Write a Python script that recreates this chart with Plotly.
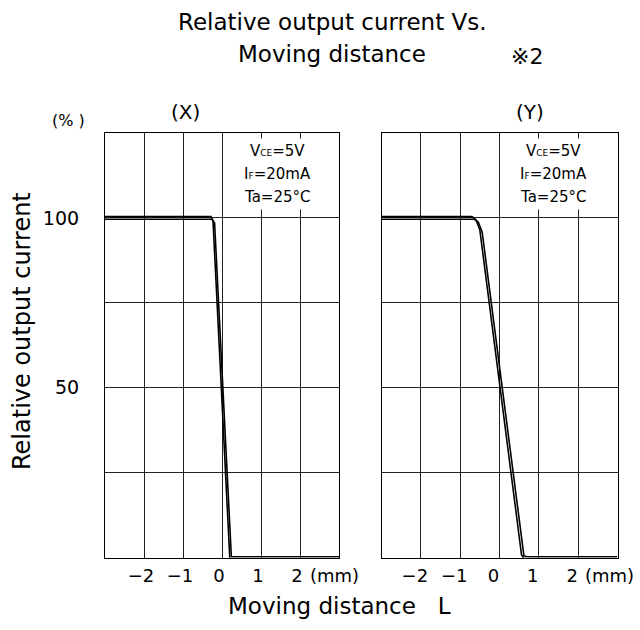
import plotly.graph_objects as go

W, H = 640, 630

# ---- data ----
x_ticks = [-2, -1, 0, 1, 2]
x_tick_text = ["−2", "−1", "0", "1", "2"]
y_ticks = [50, 100]
y_tick_text = ["50", "100"]

# (X) direction, two samples
x_dist_a = [-3.0, -0.28, -0.23, 0.20, 3.0]
x_out_a = [100.4, 100.4, 99.0, -0.3, -0.3]
x_dist_b = [-3.0, -0.25, -0.19, 0.24, 3.0]
x_out_b = [99.6, 99.6, 98.5, 0.3, 0.3]

# (Y) direction, two samples
y_dist_a = [-3.0, -0.70, -0.60, -0.50, 0.56, 0.63, 3.0]
y_out_a = [100.4, 100.4, 99.5, 96.5, 0.8, -0.3, -0.3]
y_dist_b = [-3.0, -0.64, -0.54, -0.44, 0.62, 0.69, 3.0]
y_out_b = [99.6, 99.6, 98.8, 95.8, 0.6, 0.3, 0.3]

FONT = "DejaVu Sans"
GRID = "#222"

def px(xp):
    return xp / W

def py(yp):
    return 1 - yp / H

fig = go.Figure()
line = dict(color="black", width=1.6)
fig.add_trace(go.Scatter(x=x_dist_a, y=x_out_a, mode="lines", line=line, xaxis="x", yaxis="y", showlegend=False))
fig.add_trace(go.Scatter(x=x_dist_b, y=x_out_b, mode="lines", line=line, xaxis="x", yaxis="y", showlegend=False))
fig.add_trace(go.Scatter(x=y_dist_a, y=y_out_a, mode="lines", line=line, xaxis="x2", yaxis="y2", showlegend=False))
fig.add_trace(go.Scatter(x=y_dist_b, y=y_out_b, mode="lines", line=line, xaxis="x2", yaxis="y2", showlegend=False))

ydom = [py(557.7), py(133)]
xax = dict(range=[-3, 3], tickmode="array", tickvals=x_ticks, ticktext=x_tick_text, showgrid=True,
           gridcolor=GRID, gridwidth=1, showline=True, linecolor="black", linewidth=1.2,
           mirror=True, zeroline=False, ticks="", ticklabelstandoff=2,
           tickfont=dict(family=FONT, size=18, color="black"), fixedrange=True)
yax = dict(range=[0, 125], tickmode="array", tickvals=y_ticks, ticktext=y_tick_text,
           showgrid=True, gridcolor=GRID, gridwidth=1,
           minor=dict(tickmode="linear", tick0=0, dtick=25, showgrid=True, gridcolor=GRID,
                      gridwidth=1, ticks=""),
           showline=True, linecolor="black", linewidth=1.2, mirror=True, zeroline=False,
           ticks="", domain=ydom, fixedrange=True,
           ticklabelstandoff=21, tickfont=dict(family=FONT, size=19, color="black"))

fig.update_layout(
    width=W, height=H,
    margin=dict(l=0, r=0, t=0, b=0),
    paper_bgcolor="white", plot_bgcolor="white",
    xaxis=dict(xax, domain=[px(105), px(339)], anchor="y", ticklabelshift=-3),
    xaxis2=dict(xax, domain=[px(381.5), px(617.5)], anchor="y2", ticklabelshift=-6),
    yaxis=dict(yax, anchor="x"),
    yaxis2=dict(yax, anchor="x2", showticklabels=False),
)

def ann(text, x, y, size, **kw):
    fig.add_annotation(text=text, x=px(x), y=py(y), xref="paper", yref="paper",
                       showarrow=False, font=dict(family=FONT, size=size, color="black"),
                       xanchor=kw.pop("xanchor", "center"), yanchor=kw.pop("yanchor", "middle"), **kw)

ann("Relative output current Vs.", 332, 22, 23)
ann("Moving distance", 332, 54, 23)
ann("※2", 527, 56, 22)
ann("(%\u00a0)", 68, 121, 16)
ann("(X)", 185, 112, 20)
ann("(Y)", 530, 112, 20)
ann("(mm)", 334, 575, 18)
ann("(mm)", 609, 575, 18)
ann("Moving distance\u00a0\u00a0\u00a0L", 339, 606, 23)
ann("Relative output current", 22, 331, 24, textangle=-90)

cond_lines = [
    ("V<span style='font-size:9px'>CE</span>=5V", 151),
    ("I<span style='font-size:9px'>F</span>=20mA", 174),
    ("Ta=25°C", 197),
]
for cx in (277, 553):
    for txt, cy in cond_lines:
        ann(txt, cx, cy, 15, bgcolor="white", borderpad=3)

fig.write_html("out.html", config={"displayModeBar": False},
               post_script="document.body.style.margin='0px';")
